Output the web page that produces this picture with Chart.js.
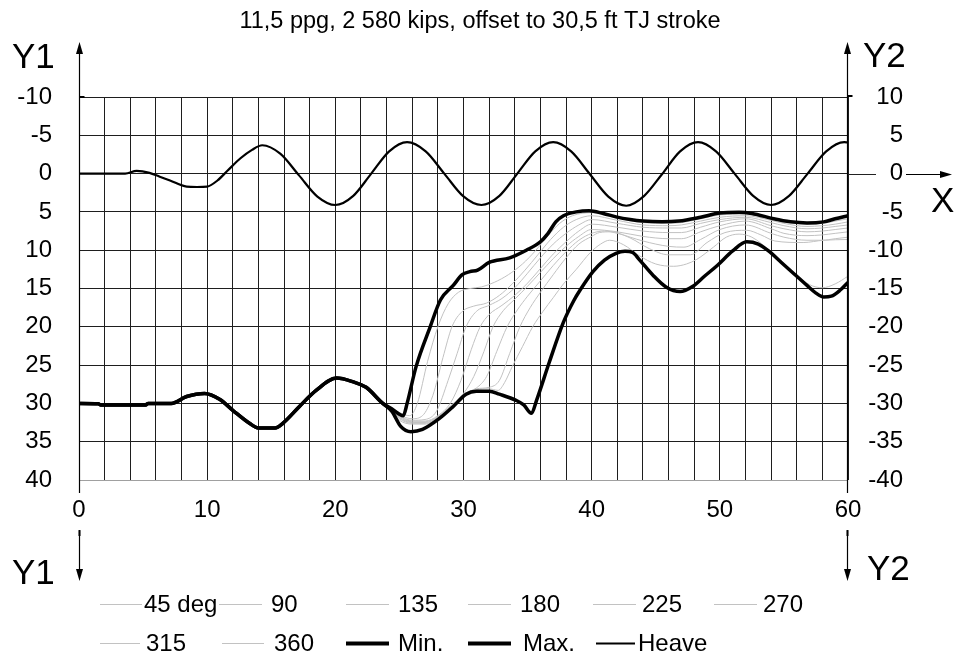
<!DOCTYPE html>
<html>
<head>
<meta charset="utf-8">
<script src="https://cdn.jsdelivr.net/npm/chart.js@4.4.0/dist/chart.umd.min.js"></script>
<style>
  html, body { margin: 0; padding: 0; background: #fff; }
  #wrap { width: 956px; height: 657px; }
</style>
</head>
<body>
<div id="wrap"><canvas id="c" width="956" height="657"></canvas></div>
<script>
// ---- text ----
const titleText = '11,5 ppg, 2 580 kips, offset to 30,5 ft TJ stroke';
const xTickLabels = [0, 10, 20, 30, 40, 50, 60];
const y1TickLabels = [-10, -5, 0, 5, 10, 15, 20, 25, 30, 35, 40];
const y2TickLabels = [10, 5, 0, -5, -10, -15, -20, -25, -30, -35, -40];
const seriesNames = ['45 deg', '90', '135', '180', '225', '270', '315', '360', 'Min.', 'Max.', 'Heave'];

// ---- series: [time, Y1 value] ----
const deg45 = [[24,30.3],[25.0,31.2],[25.8,31.6],[26.4,30.0],[27.2,24.5],[28.0,20.0],[28.8,17.0],[29.6,15.5],[30.5,15.0],[31.4,14.8],[32.4,14.2],[33.5,13.2],[34.6,11.8],[35.6,10.1],[36.6,8.1],[37.5,6.5],[38.5,5.5],[40,5.1],[42,5.8],[44,6.4],[46,6.5],[47,6.4],[48.5,5.9],[50,5.4],[52,5.3],[54,5.9],[55,6.2],[56.8,6.6],[58,6.5],[59,6.2],[60,5.9]];
const deg90 = [[24,30.3],[25.0,31.5],[26.0,32.0],[26.8,31.6],[27.6,29.0],[28.4,24.0],[29.1,20.0],[29.9,18.0],[30.8,17.3],[31.8,16.9],[32.8,15.9],[33.8,14.4],[34.8,12.6],[35.8,10.6],[36.8,8.6],[37.8,7.0],[38.8,6.0],[40,5.5],[42,6.1],[44,6.7],[46,6.8],[47,6.7],[48.5,6.2],[50,5.7],[52,5.5],[54,6.1],[55,6.5],[56.8,6.9],[58,6.8],[59,6.6],[60,6.3]];
const deg135 = [[24,30.3],[25.0,31.6],[26.0,32.2],[27.0,32.1],[27.9,31.0],[28.8,27.0],[29.5,23.5],[30.2,20.0],[31.0,18.0],[32.0,17.2],[33.0,16.3],[34.0,14.9],[35.0,13.0],[36.0,11.0],[37.0,9.2],[38.0,7.8],[39.0,6.7],[40,6.0],[42,6.5],[44,7.0],[46,7.1],[47,7.1],[48.5,6.5],[50,6.0],[52,5.7],[54,6.4],[55,6.8],[56.8,7.2],[58,7.1],[59,6.9],[60,6.7]];
const deg180 = [[24,30.3],[25.0,31.7],[26.0,32.3],[27.0,32.3],[28.0,31.6],[29.0,29.9],[29.8,27.0],[30.6,23.0],[31.3,20.0],[32.0,18.4],[33.0,17.2],[34.0,15.9],[35.0,14.3],[36.0,12.4],[37.0,10.5],[38.0,8.9],[39.0,7.5],[40,6.6],[42,7.0],[44,7.5],[46,7.7],[47,7.7],[48.5,7.0],[50,6.3],[52,5.9],[54,6.8],[55,7.2],[56.8,7.6],[58,7.5],[59,7.3],[60,7.1]];
const deg225 = [[24,30.3],[25.0,31.8],[26.0,32.4],[27.0,32.4],[28.0,31.7],[29.0,30.3],[30.0,28.7],[30.8,26.5],[31.6,23.2],[32.3,20.0],[33.1,17.9],[34.0,16.4],[35.0,14.7],[36.0,12.9],[37.0,11.1],[38.0,9.5],[39.0,8.2],[40,7.3],[42,7.6],[44,8.2],[46,8.5],[47,8.5],[48.5,7.6],[50,6.8],[52,6.2],[54,7.2],[55,7.8],[56.8,8.1],[58,8.0],[59,7.8],[60,7.6]];
const deg270 = [[24,30.3],[25.0,31.9],[26.0,32.5],[27.0,32.5],[28.0,31.8],[29.0,30.4],[30.0,28.8],[31.0,28.0],[31.8,26.5],[32.6,23.2],[33.4,20.0],[34.2,17.8],[35.0,16.0],[36.0,14.0],[37.0,12.0],[38.0,10.2],[39.0,8.7],[40,7.8],[41,7.5],[42,7.8],[44,8.8],[46,9.5],[47.2,9.6],[48.5,8.6],[50,7.3],[52,6.7],[54,7.8],[55,8.3],[56.8,8.7],[58,8.7],[59,8.5],[60,8.3]];
const deg315 = [[24,30.3],[25.0,32.0],[26.0,32.6],[27.0,32.6],[28.0,31.8],[29.0,30.5],[30.0,28.9],[31.0,28.1],[32.0,27.9],[32.8,27.0],[33.6,23.5],[34.4,20.0],[35.2,17.5],[36.0,15.5],[37.0,13.2],[38.0,11.0],[39.0,9.2],[40,8.2],[40.6,7.7],[41.5,7.6],[43,8.4],[44.5,9.8],[46,10.6],[47.7,10.6],[49,9.0],[50.4,7.7],[52.1,7.4],[53.2,8.0],[54.3,8.8],[56.5,9.0],[58.1,8.7],[60,8.6]];
const deg360 = [[24,30.3],[25.0,32.2],[26.0,32.7],[27.0,32.7],[28.0,31.9],[29.0,30.6],[30.0,29.0],[31.0,28.2],[32.0,28.1],[32.7,28.3],[33.2,27.3],[33.8,25.2],[34.6,22.6],[35.4,20.0],[36.2,18.0],[37.0,16.2],[37.8,14.4],[38.8,12.5],[39.9,10.3],[40.7,9.2],[41.4,8.7],[42.5,9.3],[43.7,10.7],[45,11.8],[46.4,12.1],[47.4,11.8],[48.2,11.2],[49.5,9.6],[50.5,8.3],[51.5,7.9],[52.5,8.3],[54,10.2],[55.9,13.1],[57,14.5],[58,14.9],[59,14.4],[60,13.4]];

// common start shared by both envelopes
const startPath = [[0,30.0],[1.5,30.05],[1.7,30.2],[5.2,30.2],[5.4,30.0],[7.2,30.0],[8.4,29.1],[9.8,28.7],[11.0,29.5],[12.0,30.9],[13.3,32.6],[14.0,33.2],[15.3,33.2],[15.9,32.6],[17.2,30.4],[18.5,28.3],[20.1,26.7],[21.4,27.2],[22.4,27.9],[23.7,30.0]];
const minTail = [[24.4,30.7],[25.3,31.6],[25.6,30.0],[26.3,25.2],[27.4,20.0],[28.2,16.5],[29.2,14.6],[29.9,13.2],[30.5,12.8],[31.1,12.6],[32.0,11.6],[33.6,11.0],[34.9,10.0],[36.0,8.9],[36.6,7.8],[37.2,6.3],[37.8,5.5],[38.8,5.0],[39.8,4.85],[40.9,5.2],[41.9,5.65],[43.0,6.0],[44.0,6.2],[45.5,6.3],[46.8,6.2],[48.5,5.7],[50.0,5.15],[51.5,5.05],[52.5,5.2],[54.2,5.9],[55.5,6.3],[56.8,6.45],[58.1,6.3],[59.0,5.9],[60,5.5]];
const maxTail = [[24.4,31.0],[25.1,33.0],[25.9,33.7],[26.8,33.4],[28.1,32.0],[29.2,30.4],[30.2,28.8],[31.0,28.4],[32.0,28.4],[32.8,28.8],[34.1,29.6],[34.7,30.2],[35.3,31.3],[35.7,29.6],[36.7,24.6],[37.8,19.4],[38.6,16.6],[39.1,15.2],[40.1,12.8],[41.0,11.3],[41.9,10.4],[42.6,10.15],[43.2,10.3],[43.7,11.2],[44.8,13.3],[45.8,14.8],[46.9,15.4],[47.9,14.7],[48.8,13.4],[49.8,12.0],[51.0,10.1],[52.1,8.9],[53.0,9.2],[53.8,10.1],[54.8,11.6],[55.8,13.1],[56.8,14.6],[57.5,15.6],[58.1,16.1],[58.7,16.0],[59.4,15.2],[60,14.2]];
const minCurve = startPath.concat(minTail);
const maxCurve = startPath.concat(maxTail);

const heave = [[0,0],[3.6,0],[4.5,-0.35],[5.5,-0.1],[6.3,0.4],[7.1,0.9],[8.4,1.7],[9.2,1.75],[10.0,1.7],[10.8,0.9],[11.6,-0.4],[12.6,-2.0],[13.5,-3.1],[14.3,-3.7],[15.7,-2.6],[17.15,0.2],[18.6,3.0],[20.0,4.1],[21.4,2.9],[22.8,0],[24.2,-2.9],[25.6,-4.1],[27.05,-2.9],[28.5,0],[29.95,2.9],[31.4,4.1],[32.8,2.9],[34.2,0],[35.6,-2.9],[37.0,-4.1],[38.4,-2.9],[39.85,0.05],[41.3,3.0],[42.7,4.2],[44.1,2.9],[45.5,0.05],[46.9,-2.9],[48.3,-4.1],[49.7,-2.9],[51.15,0],[52.6,2.9],[54.0,4.1],[55.4,2.9],[56.85,0],[58.3,-2.9],[59.7,-4.1],[60,-4.08]];

const seriesData = [deg45, deg90, deg135, deg180, deg225, deg270, deg315, deg360, minCurve, maxCurve, heave];

// ---- styles ----
const FONT = "'Liberation Sans', Arial, Helvetica, sans-serif";
const GREY = '#c2c2c2';
const seriesStyle = [
  ...Array(8).fill({ color: GREY, width: 1, order: 2 }),
  { color: '#000', width: 3.5, order: 1 },
  { color: '#000', width: 3.5, order: 1 },
  { color: '#000', width: 2.2, order: 0 }
];

const datasets = seriesNames.map((name, i) => ({
  label: name,
  data: seriesData[i],
  borderColor: seriesStyle[i].color,
  backgroundColor: seriesStyle[i].color,
  borderWidth: seriesStyle[i].width,
  order: seriesStyle[i].order,
  yAxisID: 'y',
  pointRadius: 0,
  fill: false,
  cubicInterpolationMode: 'monotone',
  borderJoinStyle: 'round'
}));

// legend layout: [line start, line end, text start] per item, two rows
const legendRows = [
  { y: 604, items: [[100,142,144],[219,262,271],[346,389,398],[468,511,520],[593,636,642],[714,757,763]] },
  { y: 643, items: [[100,140,146],[222,264,274],[346,389,398],[468,511,523],[596,635,638]] }
];

function arrowV(ctx, x, yFrom, yTip) {
  const dir = Math.sign(yTip - yFrom);
  ctx.beginPath();
  ctx.moveTo(x, yFrom);
  ctx.lineTo(x, yTip - dir * 8);
  ctx.stroke();
  ctx.beginPath();
  ctx.moveTo(x, yTip);
  ctx.lineTo(x - 3.5, yTip - dir * 12);
  ctx.lineTo(x + 3.5, yTip - dir * 12);
  ctx.closePath();
  ctx.fill();
}
function arrowH(ctx, y, xFrom, xTip) {
  ctx.beginPath();
  ctx.moveTo(xFrom, y);
  ctx.lineTo(xTip - 8, y);
  ctx.stroke();
  ctx.beginPath();
  ctx.moveTo(xTip, y);
  ctx.lineTo(xTip - 12, y - 3.5);
  ctx.lineTo(xTip - 12, y + 3.5);
  ctx.closePath();
  ctx.fill();
}

const decor = {
  id: 'decor',
  afterDraw(chart) {
    const ctx = chart.ctx;
    const a = chart.chartArea;
    const y0 = Math.round(chart.scales.y.getPixelForValue(0)) + 0.5;
    const L = Math.round(a.left) + 0.5;
    const R = Math.round(a.right) - 0.5;
    ctx.save();
    ctx.fillStyle = '#000';
    ctx.strokeStyle = '#000';
    ctx.lineWidth = 1.2;

    // vertical axis lines with arrows
    arrowV(ctx, L, a.bottom + 13, a.top - 55);
    arrowV(ctx, R, a.bottom + 13, a.top - 55);
    arrowV(ctx, L, a.bottom + 51, a.bottom + 101);
    arrowV(ctx, R, a.bottom + 51, a.bottom + 101);
    // small marks
    ctx.lineWidth = 2;
    ctx.beginPath();
    ctx.moveTo(L, a.top); ctx.lineTo(L + 5, a.top);
    ctx.moveTo(R, a.top - 1); ctx.lineTo(R + 5, a.top - 1);
    ctx.moveTo(L, a.bottom + 50); ctx.lineTo(L, a.bottom + 56);
    ctx.moveTo(R, a.bottom + 50); ctx.lineTo(R, a.bottom + 56);
    ctx.stroke();

    // zero line continues past the plot, then X arrow
    ctx.lineWidth = 1;
    ctx.strokeStyle = '#222';
    ctx.beginPath();
    ctx.moveTo(a.right, y0); ctx.lineTo(a.right + 28, y0);
    ctx.stroke();
    ctx.strokeStyle = '#000';
    ctx.lineWidth = 1.2;
    arrowH(ctx, y0, 906, 952);

    // title
    ctx.font = '23.5px ' + FONT;
    ctx.textAlign = 'center';
    ctx.textBaseline = 'alphabetic';
    ctx.fillText(titleText, 480, 28);

    // axis names
    ctx.font = '35px ' + FONT;
    ctx.textAlign = 'left';
    ctx.fillText('Y1', 12, 68);
    ctx.fillText('Y2', 863, 67);
    ctx.fillText('Y1', 12, 584);
    ctx.fillText('Y2', 867, 580);
    ctx.fillText('X', 931, 212);

    // legend
    ctx.font = '24px ' + FONT;
    ctx.textBaseline = 'middle';
    let k = 0;
    legendRows.forEach(row => {
      row.items.forEach(it => {
        const ds = chart.data.datasets[k];
        ctx.strokeStyle = ds.borderColor;
        ctx.lineWidth = ds.borderWidth >= 3 ? 4 : ds.borderWidth;
        ctx.beginPath();
        ctx.moveTo(it[0], row.y + 0.5);
        ctx.lineTo(it[1], row.y + 0.5);
        ctx.stroke();
        ctx.fillStyle = '#000';
        ctx.fillText(ds.label, it[2], row.y + 1);
        k++;
      });
    });
    ctx.restore();
  }
};

new Chart(document.getElementById('c'), {
  type: 'line',
  data: { datasets },
  options: {
    responsive: false,
    animation: false,
    devicePixelRatio: 1,
    layout: { padding: { top: 97, right: 53, bottom: 0, left: 0 } },
    plugins: { legend: { display: false }, title: { display: false }, tooltip: { enabled: false } },
    scales: {
      x: {
        type: 'linear', position: 'bottom', min: 0, max: 60,
        ticks: {
          stepSize: 2, autoSkip: false, maxRotation: 0, padding: 16, color: '#000',
          font: { family: FONT, size: 24 },
          callback: v => (xTickLabels.includes(v) ? String(v) : '')
        },
        grid: { color: '#1e1e1e', lineWidth: 1, drawTicks: false },
        border: { display: false },
        afterFit: s => { s.height = 177; }
      },
      y: {
        type: 'linear', position: 'left', reverse: true, min: -10, max: 40,
        ticks: {
          stepSize: 5, padding: 27, color: '#000',
          font: { family: FONT, size: 24 },
          callback: v => (y1TickLabels.includes(v) ? String(v) : '')
        },
        grid: {
          color: c => (c.tick && c.tick.value === 40 ? '#a0a0a0' : '#1e1e1e'),
          lineWidth: 1, drawTicks: false
        },
        border: { display: false },
        afterFit: s => { s.width = 79; }
      },
      y2: {
        type: 'linear', position: 'right', min: -40, max: 10,
        ticks: {
          stepSize: 5, padding: 0, crossAlign: 'far', color: '#000',
          font: { family: FONT, size: 24 },
          callback: v => (y2TickLabels.includes(v) ? String(v) : '')
        },
        grid: { display: false, drawTicks: false },
        border: { display: false },
        afterFit: s => { s.width = 55; }
      }
    }
  },
  plugins: [decor]
});
</script>
</body>
</html>
